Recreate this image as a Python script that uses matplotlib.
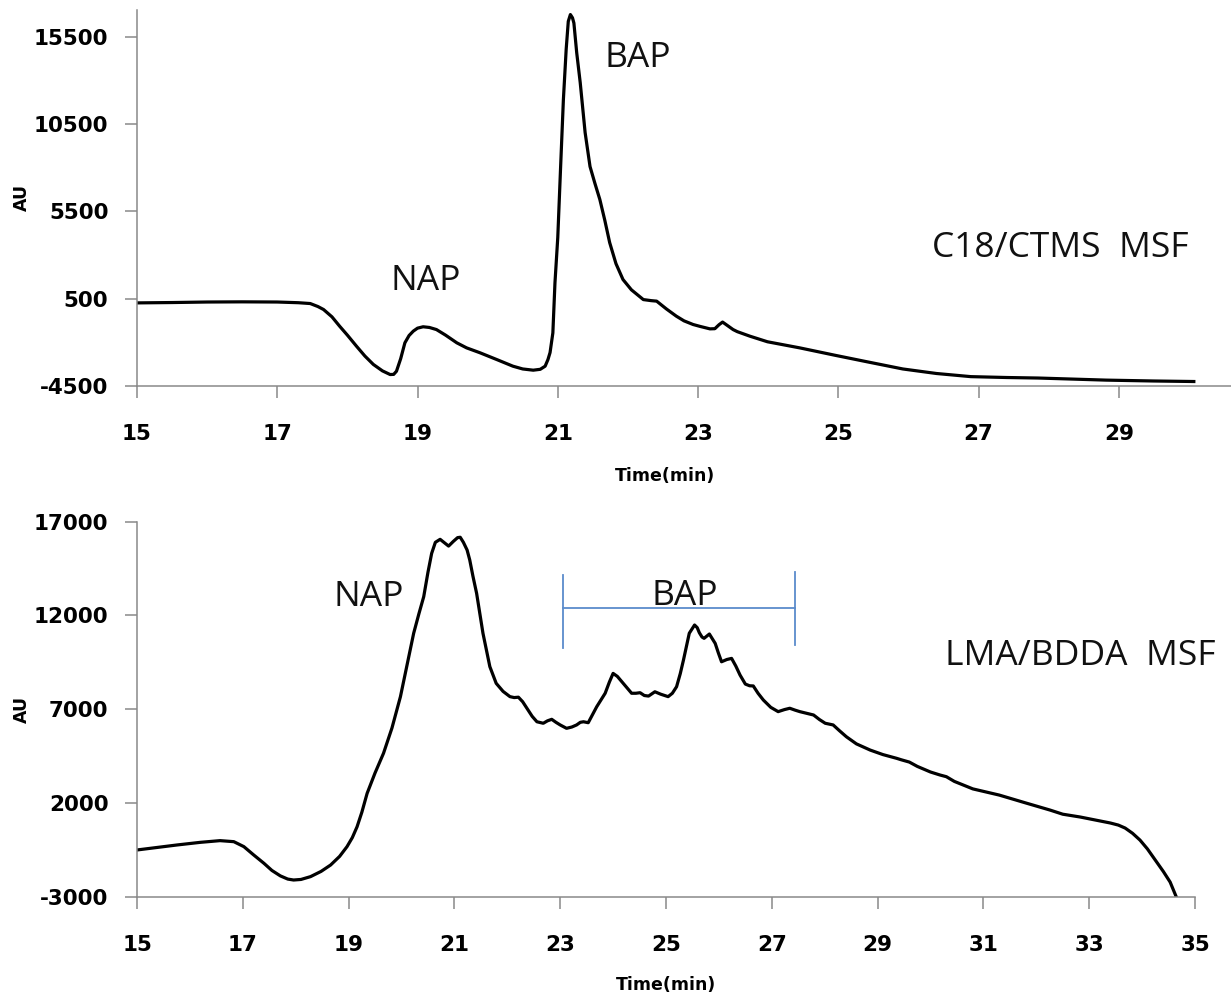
import matplotlib
matplotlib.use("Agg")
import matplotlib.pyplot as plt

plt.rcParams['axes.unicode_minus'] = False

# top chromatogram: C18/CTMS MSF
t_top = [15.0, 15.5, 16.0, 16.5, 17.0, 17.3, 17.47, 17.58, 17.66, 17.78, 17.89, 18.0,
         18.13, 18.25, 18.37, 18.5, 18.61, 18.66, 18.70, 18.76, 18.82, 18.88, 18.94,
         19.0, 19.08, 19.17, 19.27, 19.4, 19.56, 19.7, 19.89, 20.13, 20.36, 20.5, 20.65,
         20.75, 20.82, 20.86, 20.89, 20.93, 20.96, 21.0, 21.04, 21.08, 21.12, 21.15,
         21.18, 21.21, 21.23, 21.27, 21.32, 21.39, 21.46, 21.53, 21.6, 21.67, 21.74,
         21.83, 21.93, 22.05, 22.22, 22.33, 22.41, 22.55, 22.69, 22.8, 22.93, 23.03,
         23.17, 23.24, 23.30, 23.35, 23.42, 23.5, 23.56, 23.74, 23.99, 24.45, 24.96,
         25.4, 25.92, 26.4, 26.89, 27.4, 27.85, 28.82, 29.5, 30.07]
au_top = [250, 270, 300, 310, 300, 260, 213, 40, -130, -550, -1090, -1600,
          -2235, -2800, -3280, -3650, -3860, -3850, -3670, -2950, -2040, -1620, -1370,
          -1200, -1120, -1160, -1280, -1600, -2040, -2330, -2610, -3000, -3380, -3540, -3610,
          -3560, -3380, -3000, -2600, -1470, 1400, 4000, 8000, 11900, 14800, 16400,
          16790, 16600, 16300, 14600, 12890, 10020, 8070, 7100, 6180, 5000, 3710,
          2500, 1590, 1000, 440, 380, 350, -100, -510, -780, -990, -1100,
          -1240, -1230, -1000, -850, -1050, -1280, -1400, -1660, -1980, -2330, -2760,
          -3120, -3540, -3800, -3980, -4030, -4060, -4180, -4230, -4260]

# bottom chromatogram: LMA/BDDA MSF
t_bot = [15.0, 15.4, 15.76, 16.2, 16.57, 16.83, 17.02, 17.2, 17.4, 17.55, 17.71, 17.85,
         17.96, 18.1, 18.28, 18.48, 18.66, 18.83, 18.97, 19.07, 19.16, 19.25, 19.35,
         19.5, 19.66, 19.82, 19.98, 20.1, 20.23, 20.33, 20.42, 20.5, 20.57, 20.64,
         20.73, 20.8, 20.89, 20.98, 21.06, 21.11, 21.17, 21.24, 21.29, 21.35, 21.42,
         21.54, 21.67, 21.79, 21.92, 22.05, 22.13, 22.21, 22.29, 22.37, 22.47, 22.56,
         22.68, 22.76, 22.84, 22.92, 23.0, 23.12, 23.22, 23.31, 23.38, 23.44, 23.53,
         23.6, 23.69, 23.85, 23.93, 24.0, 24.08, 24.19, 24.35, 24.43, 24.51, 24.59,
         24.67, 24.79, 24.9, 25.04, 25.12, 25.2, 25.27, 25.33, 25.39, 25.44, 25.54,
         25.59, 25.63, 25.68, 25.72, 25.82, 25.93, 25.99, 26.05, 26.15, 26.24, 26.32,
         26.4, 26.5, 26.58, 26.65, 26.74, 26.84, 26.98, 27.12, 27.24, 27.34, 27.44,
         27.53, 27.66, 27.79, 27.9, 28.01, 28.16, 28.28, 28.41, 28.6, 28.86, 29.1,
         29.36, 29.45, 29.6, 29.75, 30.0, 30.18, 30.3, 30.45, 30.8, 31.3, 31.8, 32.26,
         32.5, 32.83, 33.1, 33.4, 33.55, 33.68, 33.82, 33.96, 34.1, 34.25, 34.4,
         34.53, 34.64]
au_bot = [-508, -370, -240, -100, -10, -65, -330, -760, -1220, -1600, -1890, -2060,
          -2110, -2080, -1930, -1650, -1310, -850, -330, 150, 730, 1500, 2510,
          3600, 4650, 6000, 7670, 9300, 11050, 12100, 13000, 14300, 15310, 15900,
          16060, 15900, 15700, 15950, 16150, 16170, 15900, 15490, 14960, 14100, 13180,
          11050, 9270, 8380, 7950, 7670, 7620, 7640, 7400, 7050, 6620, 6330,
          6250, 6380, 6460, 6300, 6160, 5980, 6050, 6160, 6300, 6330, 6280,
          6650, 7130, 7850, 8450, 8910, 8750, 8380, 7850, 7850, 7880, 7730,
          7700, 7930, 7800, 7670, 7850, 8200, 8900, 9620, 10400, 11050, 11490,
          11350, 11080, 10850, 10780, 11010, 10510, 10000, 9530, 9650, 9710, 9300,
          8820, 8340, 8250, 8240, 7850, 7490, 7100, 6870, 6980, 7050, 6950,
          6870, 6780, 6690, 6450, 6250, 6160, 5850, 5530, 5150, 4820, 4580,
          4380, 4300, 4180, 3950, 3650, 3490, 3400, 3150, 2750, 2420, 2000, 1620,
          1400, 1250, 1100, 930, 820, 660, 380, 20, -450, -1050, -1650,
          -2220, -2970]

top_xticks = [15, 17, 19, 21, 23, 25, 27, 29]
top_yticks = [-4500, 500, 5500, 10500, 15500]
bot_xticks = [15, 17, 19, 21, 23, 25, 27, 29, 31, 33, 35]
bot_yticks = [-3000, 2000, 7000, 12000, 17000]

bap_range = [23.05, 27.43]   # bracket over the BAP region (bottom panel)
bap_cap = [(10250, 14160), (10420, 14330)]
bap_level = 12380

W, H = 1231, 999
fig = plt.figure(figsize=(W / 100, H / 100), dpi=100)
ax1 = fig.add_axes([137 / W, 1 - 385.7 / H, 1094 / W, 375.7 / H])
ax2 = fig.add_axes([137 / W, 1 - 896.7 / H, 1058 / W, 375 / H])

gray = '#898989'
tick_font = dict(fontsize=15.5, fontweight='bold', family='DejaVu Sans')
note_font = dict(fontsize=25.5, family='Open Sans', color='#111111')


def style(ax, xt, yt):
    for s in ['top', 'right']:
        ax.spines[s].set_visible(False)
    for s in ['left', 'bottom']:
        ax.spines[s].set_color(gray)
        ax.spines[s].set_linewidth(1.1)
    ax.set_xticks(xt)
    ax.set_xticklabels([str(v) for v in xt], **tick_font)
    ax.set_yticks(yt)
    ax.set_yticklabels([str(v) for v in yt], **tick_font)
    ax.tick_params(axis='both', direction='out', length=8.6, width=1.1, color=gray)
    ax.tick_params(axis='x', pad=19)
    ax.tick_params(axis='y', pad=12)


ax1.plot(t_top, au_top, color='black', lw=2.3, solid_joinstyle='round')
ax1.set_xlim(15, 30.6)
ax1.set_ylim(-4500, 17050)
style(ax1, top_xticks, top_yticks)
ax1.text(0.4826, -0.240, 'Time(min)', transform=ax1.transAxes, ha='center', va='center',
         fontsize=12.5, fontweight='bold')
ax1.text(-0.1054, 0.5, 'AU', transform=ax1.transAxes, rotation=90, ha='center',
         va='center', fontsize=12.5, fontweight='bold')
ax1.text(19.12, 1016, 'NAP', ha='center', va='baseline', **note_font)
ax1.text(22.14, 13800, 'BAP', ha='center', va='baseline', **note_font)
ax1.text(28.16, 2910, 'C18/CTMS  MSF', ha='center', va='baseline', **note_font)

ax2.plot(t_bot, au_bot, color='black', lw=2.3, solid_joinstyle='round')
ax2.set_xlim(15, 35)
ax2.set_ylim(-3000, 17000)
style(ax2, bot_xticks, bot_yticks)
ax2.text(0.5, -0.2355, 'Time(min)', transform=ax2.transAxes, ha='center', va='center',
         fontsize=12.5, fontweight='bold')
ax2.text(-0.109, 0.5, 'AU', transform=ax2.transAxes, rotation=90, ha='center',
         va='center', fontsize=12.5, fontweight='bold')
ax2.text(19.38, 12500, 'NAP', ha='center', va='baseline', **note_font)
ax2.text(25.36, 12560, 'BAP', ha='center', va='baseline', **note_font)
ax2.text(32.83, 9360, 'LMA/BDDA  MSF', ha='center', va='baseline', **note_font)

blue = '#5B8BCB'
ax2.plot(bap_range, [bap_level, bap_level], color=blue, lw=1.3)
for x, (lo, hi) in zip(bap_range, bap_cap):
    ax2.plot([x, x], [lo, hi], color=blue, lw=1.3)

fig.savefig('out.png', dpi=100)
